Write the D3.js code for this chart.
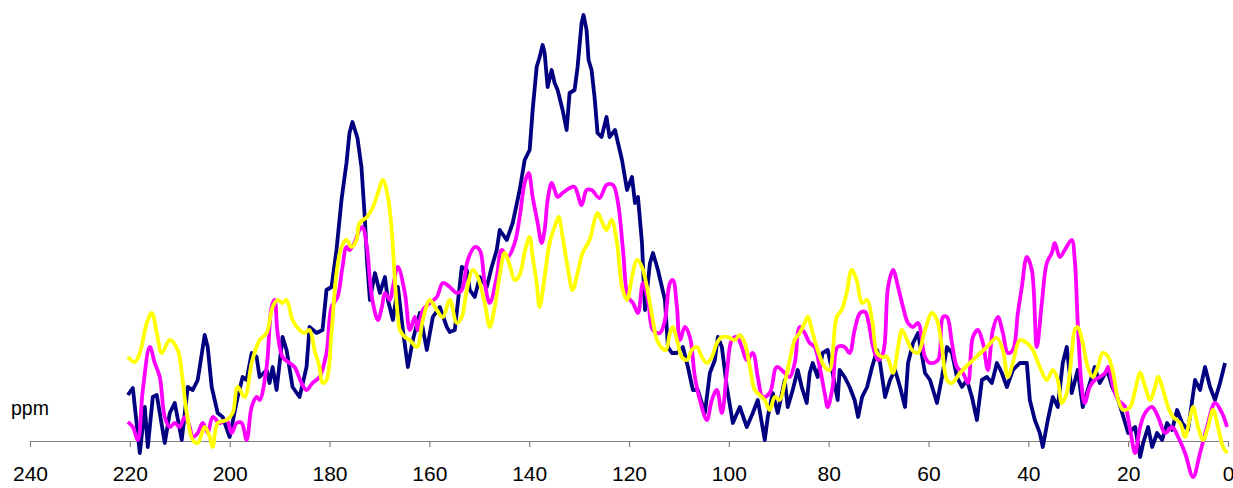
<!DOCTYPE html>
<html>
<head>
<meta charset="utf-8">
<script src="https://cdn.jsdelivr.net/npm/d3@7"></script>
<style>
  body { margin: 0; background: #fff; }
  svg { display: block; font-family: Arial, "Liberation Sans", sans-serif; }
</style>
</head>
<body>
<script>
// x ticks (ppm, reversed axis)
var tickValues = [240, 220, 200, 180, 160, 140, 120, 100, 80, 60, 40, 20, 0];

// spectra as [ppm, intensity]
var navy = [[220.4,46],[219.4,53],[218.0,-12],[217.0,34],[216.4,-6],[215.4,44],[214.6,46],[213.0,-2],[212.0,28],[211.0,38],
[209.6,1],[208.4,54],[207.4,51],[206.4,61],[205.0,106],[204.4,94],[203.6,54],[202.4,28],[201.4,24],[200.0,4],
[198.4,44],[197.4,64],[196.6,61],[195.6,88],[194.6,84],[194.0,64],[192.6,71],[192.0,58],[191.4,74],[190.6,51],
[189.4,104],[188.6,91],[187.4,54],[186.0,44],[184.6,74],[184.0,114],[182.6,108],[181.4,111],[180.6,151],[179.6,154],
[178.6,191],[177.6,241],[176.6,278],[176.0,308],[175.4,319],[174.4,303],[173.6,274],[172.9,221],[172.5,181],[171.9,141],
[170.9,168],[169.9,148],[168.9,164],[168.3,141],[167.3,121],[166.3,154],[165.3,111],[164.3,74],[163.3,101],[161.9,128],
[160.5,91],[159.3,124],[157.9,134],[156.5,114],[155.9,109],[154.9,111],[153.5,174],[152.5,171],[151.9,151],[150.9,144],
[149.9,164],[148.5,154],[147.5,174],[146.5,191],[145.9,211],[144.5,201],[143.3,218],[141.9,251],[140.9,281],[139.9,291],
[139.3,331],[138.5,374],[137.9,384],[137.3,396],[136.9,388],[136.3,354],[135.5,371],[134.9,358],[134.3,351],[133.3,331],
[132.5,311],[131.9,348],[130.9,351],[130.3,374],[129.5,418],[129.1,426],[128.5,411],[128.1,381],[127.5,371],[126.9,344],
[126.3,308],[125.5,304],[124.5,324],[123.9,304],[122.8,311],[122.2,298],[121.4,281],[120.4,251],[119.4,264],[118.8,238],
[118.2,244],[117.4,198],[116.8,131],[115.8,178],[115.2,188],[114.2,171],[112.8,141],[112.2,94],[111.4,88],[110.4,88],
[109.2,94],[108.2,74],[107.2,51],[106.2,51],[104.8,28],[103.8,68],[102.8,81],[102.2,104],[101.4,94],[100.4,54],
[99.2,18],[97.8,34],[96.4,14],[95.2,28],[94.2,41],[92.8,1],[92.2,24],[91.2,48],[90.2,28],[88.8,61],
[88.2,34],[87.2,51],[86.2,71],[85.4,54],[84.4,38],[83.8,68],[83.2,78],[82.2,64],[81.2,88],[80.2,91],
[79.2,68],[78.2,41],[77.8,71],[76.8,64],[75.8,54],[74.8,41],[74.1,24],[73.3,44],[72.3,54],[71.3,74],
[70.3,91],[69.7,78],[68.7,44],[67.7,61],[66.7,71],[65.7,54],[64.7,34],[64.1,78],[63.1,98],[62.1,108],
[60.7,68],[59.7,61],[58.3,38],[57.3,64],[56.3,94],[55.3,88],[54.3,64],[53.3,54],[52.3,61],[51.3,44],
[50.3,21],[49.3,61],[48.3,64],[47.3,58],[46.3,78],[45.3,68],[44.3,54],[43.1,71],[41.7,78],[40.3,78],
[39.7,41],[38.7,21],[37.7,8],[37.1,-6],[36.1,21],[35.1,44],[34.1,34],[33.1,78],[32.3,94],[31.3,48],
[30.1,71],[29.1,34],[28.1,51],[26.7,74],[25.7,58],[24.2,71],[23.2,54],[22.2,44],[21.2,28],[20.0,8],
[18.6,14],[17.6,-16],[17.0,-2],[16.0,14],[15.2,-6],[14.2,8],[13.2,1],[12.2,18],[11.2,11],[10.2,31],
[9.2,18],[8.0,11],[6.6,61],[5.6,51],[4.6,74],[3.6,54],[2.6,41],[1.6,58],[0.6,78]];

var magenta = [[220.4,19],[219.4,14],[218.4,1],[217.4,51],[216.0,94],[215.0,78],[214.0,64],[213.0,24],[212.0,14],[211.0,18],
[210.0,14],[209.0,24],[208.0,14],[207.4,4],[206.4,8],[205.4,18],[204.4,8],[203.4,24],[202.0,18],[200.6,21],
[199.6,8],[198.6,18],[197.6,18],[196.6,1],[195.6,34],[194.6,44],[194.0,41],[192.6,74],[191.6,134],[191.0,141],
[190.4,108],[189.4,84],[188.0,78],[187.0,74],[185.6,58],[184.6,51],[183.4,58],[182.0,64],[180.6,88],[179.6,134],
[178.4,144],[177.4,174],[176.6,194],[176.0,191],[175.0,198],[174.0,211],[173.4,214],[172.5,194],[171.9,161],[171.3,138],
[170.3,121],[169.5,134],[168.9,148],[167.9,141],[167.3,154],[166.3,174],[164.9,148],[163.9,111],[162.9,124],[162.3,111],
[161.3,131],[159.9,138],[158.5,144],[157.3,158],[155.9,154],[154.5,148],[153.5,151],[152.3,181],[150.9,194],[149.9,191],
[148.9,158],[147.9,138],[146.5,164],[145.5,191],[144.3,184],[142.9,198],[141.9,224],[140.9,258],[140.1,268],[139.3,244],
[138.3,218],[137.5,198],[136.9,211],[136.3,241],[135.5,258],[134.9,251],[134.3,244],[133.3,248],[131.9,253],[130.9,254],
[129.5,236],[128.5,251],[127.5,251],[125.9,243],[124.5,256],[123.2,256],[122.2,238],[121.2,191],[120.2,144],[119.2,138],
[118.2,128],[117.2,158],[116.2,141],[115.2,111],[113.8,108],[112.8,121],[111.8,158],[111.2,161],[110.4,134],[109.8,101],
[108.8,114],[107.8,104],[106.8,64],[105.8,41],[104.4,21],[103.4,41],[102.4,51],[101.4,28],[100.4,68],[99.4,101],
[98.4,104],[97.4,94],[96.4,81],[95.2,88],[94.2,64],[93.2,44],[91.8,48],[90.4,74],[88.8,68],[87.8,64],
[86.8,78],[85.8,114],[84.8,108],[83.8,98],[82.8,94],[81.8,74],[80.8,48],[80.2,34],[79.2,54],[78.2,94],
[76.8,94],[75.8,88],[74.8,111],[73.7,128],[72.7,129],[72.1,121],[71.1,94],[70.1,81],[69.1,88],[68.1,154],
[67.1,171],[66.1,154],[65.1,134],[64.1,118],[63.1,114],[62.1,118],[60.7,84],[59.7,78],[58.1,81],[57.1,124],
[56.3,124],[55.3,98],[54.3,74],[53.1,68],[52.1,58],[51.1,104],[50.1,111],[49.1,98],[48.1,71],[47.1,111],
[46.1,124],[45.1,108],[44.1,88],[43.1,91],[42.1,128],[41.3,154],[40.3,184],[39.3,171],[38.3,94],[37.3,138],
[36.3,178],[35.3,188],[34.7,198],[33.7,184],[32.7,191],[31.3,201],[30.7,181],[30.1,118],[29.3,54],[28.7,38],
[27.7,54],[26.7,61],[25.7,64],[24.6,68],[24.0,74],[23.0,54],[22.0,41],[20.6,34],[19.6,11],[18.6,-12],
[17.6,14],[16.6,28],[15.2,34],[14.0,24],[12.6,8],[11.2,14],[10.0,4],[8.6,-12],[7.0,-36],[5.6,-12],
[4.2,14],[2.6,38],[1.2,28],[0.2,14]];

var yellow = [[220.4,84],[219.0,79],[218.0,88],[216.6,118],[215.6,128],[214.6,108],[213.6,88],[212.0,101],[210.4,91],[209.6,68],
[208.6,28],[207.4,1],[206.4,-2],[205.0,14],[204.0,4],[203.4,-6],[202.4,18],[200.6,21],[199.4,28],[198.4,54],
[197.0,44],[195.6,78],[194.6,94],[194.0,101],[192.6,108],[191.4,134],[190.4,141],[189.4,138],[188.6,141],[187.4,121],
[186.0,111],[185.0,108],[184.0,111],[183.0,91],[182.0,74],[181.4,58],[180.6,61],[179.6,108],[178.6,168],[177.6,194],
[176.6,201],[175.6,194],[174.6,201],[174.0,218],[172.5,224],[171.3,234],[170.3,248],[169.3,261],[168.3,244],[167.5,208],
[166.9,161],[166.3,124],[165.9,111],[164.9,104],[163.9,101],[162.5,94],[161.3,121],[159.9,141],[158.5,131],[157.3,124],
[155.9,141],[154.5,118],[153.5,124],[152.5,151],[151.3,171],[150.3,164],[148.9,138],[147.9,114],[146.9,134],[145.9,166],
[144.9,188],[143.9,176],[142.9,161],[141.9,166],[140.9,189],[139.9,204],[139.3,184],[138.5,158],[137.9,134],[136.9,164],
[135.9,198],[134.9,214],[134.1,224],[133.3,204],[132.3,174],[131.3,151],[130.3,168],[129.3,188],[127.9,201],[126.9,221],
[126.3,228],[125.3,218],[124.5,211],[123.5,221],[122.4,198],[121.4,154],[120.4,141],[119.4,164],[118.4,181],[117.4,174],
[116.4,154],[115.4,126],[114.4,101],[113.4,93],[112.6,91],[111.8,108],[111.2,114],[110.4,101],[109.4,84],[108.4,81],
[107.4,91],[106.4,94],[105.4,84],[104.4,78],[103.4,84],[102.4,98],[101.4,104],[100.2,104],[98.8,101],[97.8,106],
[96.8,98],[95.8,74],[94.8,51],[93.8,46],[92.8,41],[91.8,31],[90.8,44],[89.8,41],[88.8,58],[87.8,81],
[86.8,101],[85.8,108],[84.8,118],[84.2,124],[83.2,108],[82.2,91],[80.8,74],[79.8,71],[79.2,88],[78.4,124],
[77.4,131],[76.4,148],[75.4,171],[74.4,161],[73.3,138],[72.3,141],[71.3,121],[70.3,88],[69.3,84],[68.3,84],
[67.1,68],[66.1,94],[65.3,111],[64.3,101],[63.3,91],[62.1,88],[60.7,111],[59.3,128],[58.3,121],[57.3,94],
[56.3,61],[55.3,58],[53.7,68],[51.1,81],[48.3,94],[46.3,103],[45.1,91],[44.1,64],[43.1,78],[41.7,101],
[40.3,98],[39.1,91],[37.7,74],[36.3,61],[35.1,71],[34.1,61],[33.3,38],[32.3,48],[31.3,88],[30.7,111],
[30.1,114],[29.1,98],[28.1,74],[27.1,64],[26.1,74],[25.1,88],[24.0,84],[23.0,68],[22.0,41],[21.0,31],
[19.6,34],[18.6,51],[17.6,68],[16.6,54],[15.6,41],[14.6,54],[14.0,64],[13.0,51],[12.0,34],[11.0,24],
[9.6,18],[8.6,4],[7.6,24],[7.0,34],[6.0,14],[5.0,1],[4.0,14],[3.0,31],[2.0,14],[1.0,-6],[0.2,-12]];

var series = [
    {name: "navy", data: navy, color: "#000080", curve: d3.curveLinear},
    {name: "magenta", data: magenta, color: "#FF00FF", curve: d3.curveCatmullRom},
    {name: "yellow", data: yellow, color: "#FFFF00", curve: d3.curveCatmullRom}
];

var width = 1233, height = 488;

var svg = d3.select("body").append("svg")
    .attr("width", width)
    .attr("height", height);

var x = d3.scaleLinear().domain([240, 0]).range([30, 1228]);
var y = d3.scaleLinear().domain([0, 430]).range([441, 11]);

// axis
var xAxis = d3.axisBottom(x)
    .tickValues(tickValues)
    .tickSize(6)
    .tickSizeOuter(0)
    .tickPadding(19)
    .tickFormat(d3.format("d"));

var gx = svg.append("g")
    .attr("transform", "translate(0," + y(0) + ")")
    .call(xAxis);

gx.select(".domain").attr("stroke", "#808080").attr("stroke-width", 1.2);
gx.selectAll(".tick line").attr("stroke", "#808080").attr("stroke-width", 1.2);
gx.selectAll(".tick text")
    .attr("fill", "#000")
    .style("font-size", "21px")
    .style("font-family", "Arial, 'Liberation Sans', sans-serif");

svg.append("text")
    .attr("x", 11)
    .attr("y", 415)
    .style("font-size", "19.5px")
    .attr("fill", "#000")
    .text("ppm");

// the three spectra
series.forEach(function (s) {
    var line = d3.line()
        .x(function (d) { return x(d[0]); })
        .y(function (d) { return y(d[1]); })
        .curve(s.curve);

    svg.append("path")
        .datum(s.data)
        .attr("class", "spectrum " + s.name)
        .attr("fill", "none")
        .attr("stroke", s.color)
        .attr("stroke-width", 3.8)
        .attr("stroke-linejoin", "round")
        .attr("d", line);
});
</script>
</body>
</html>
